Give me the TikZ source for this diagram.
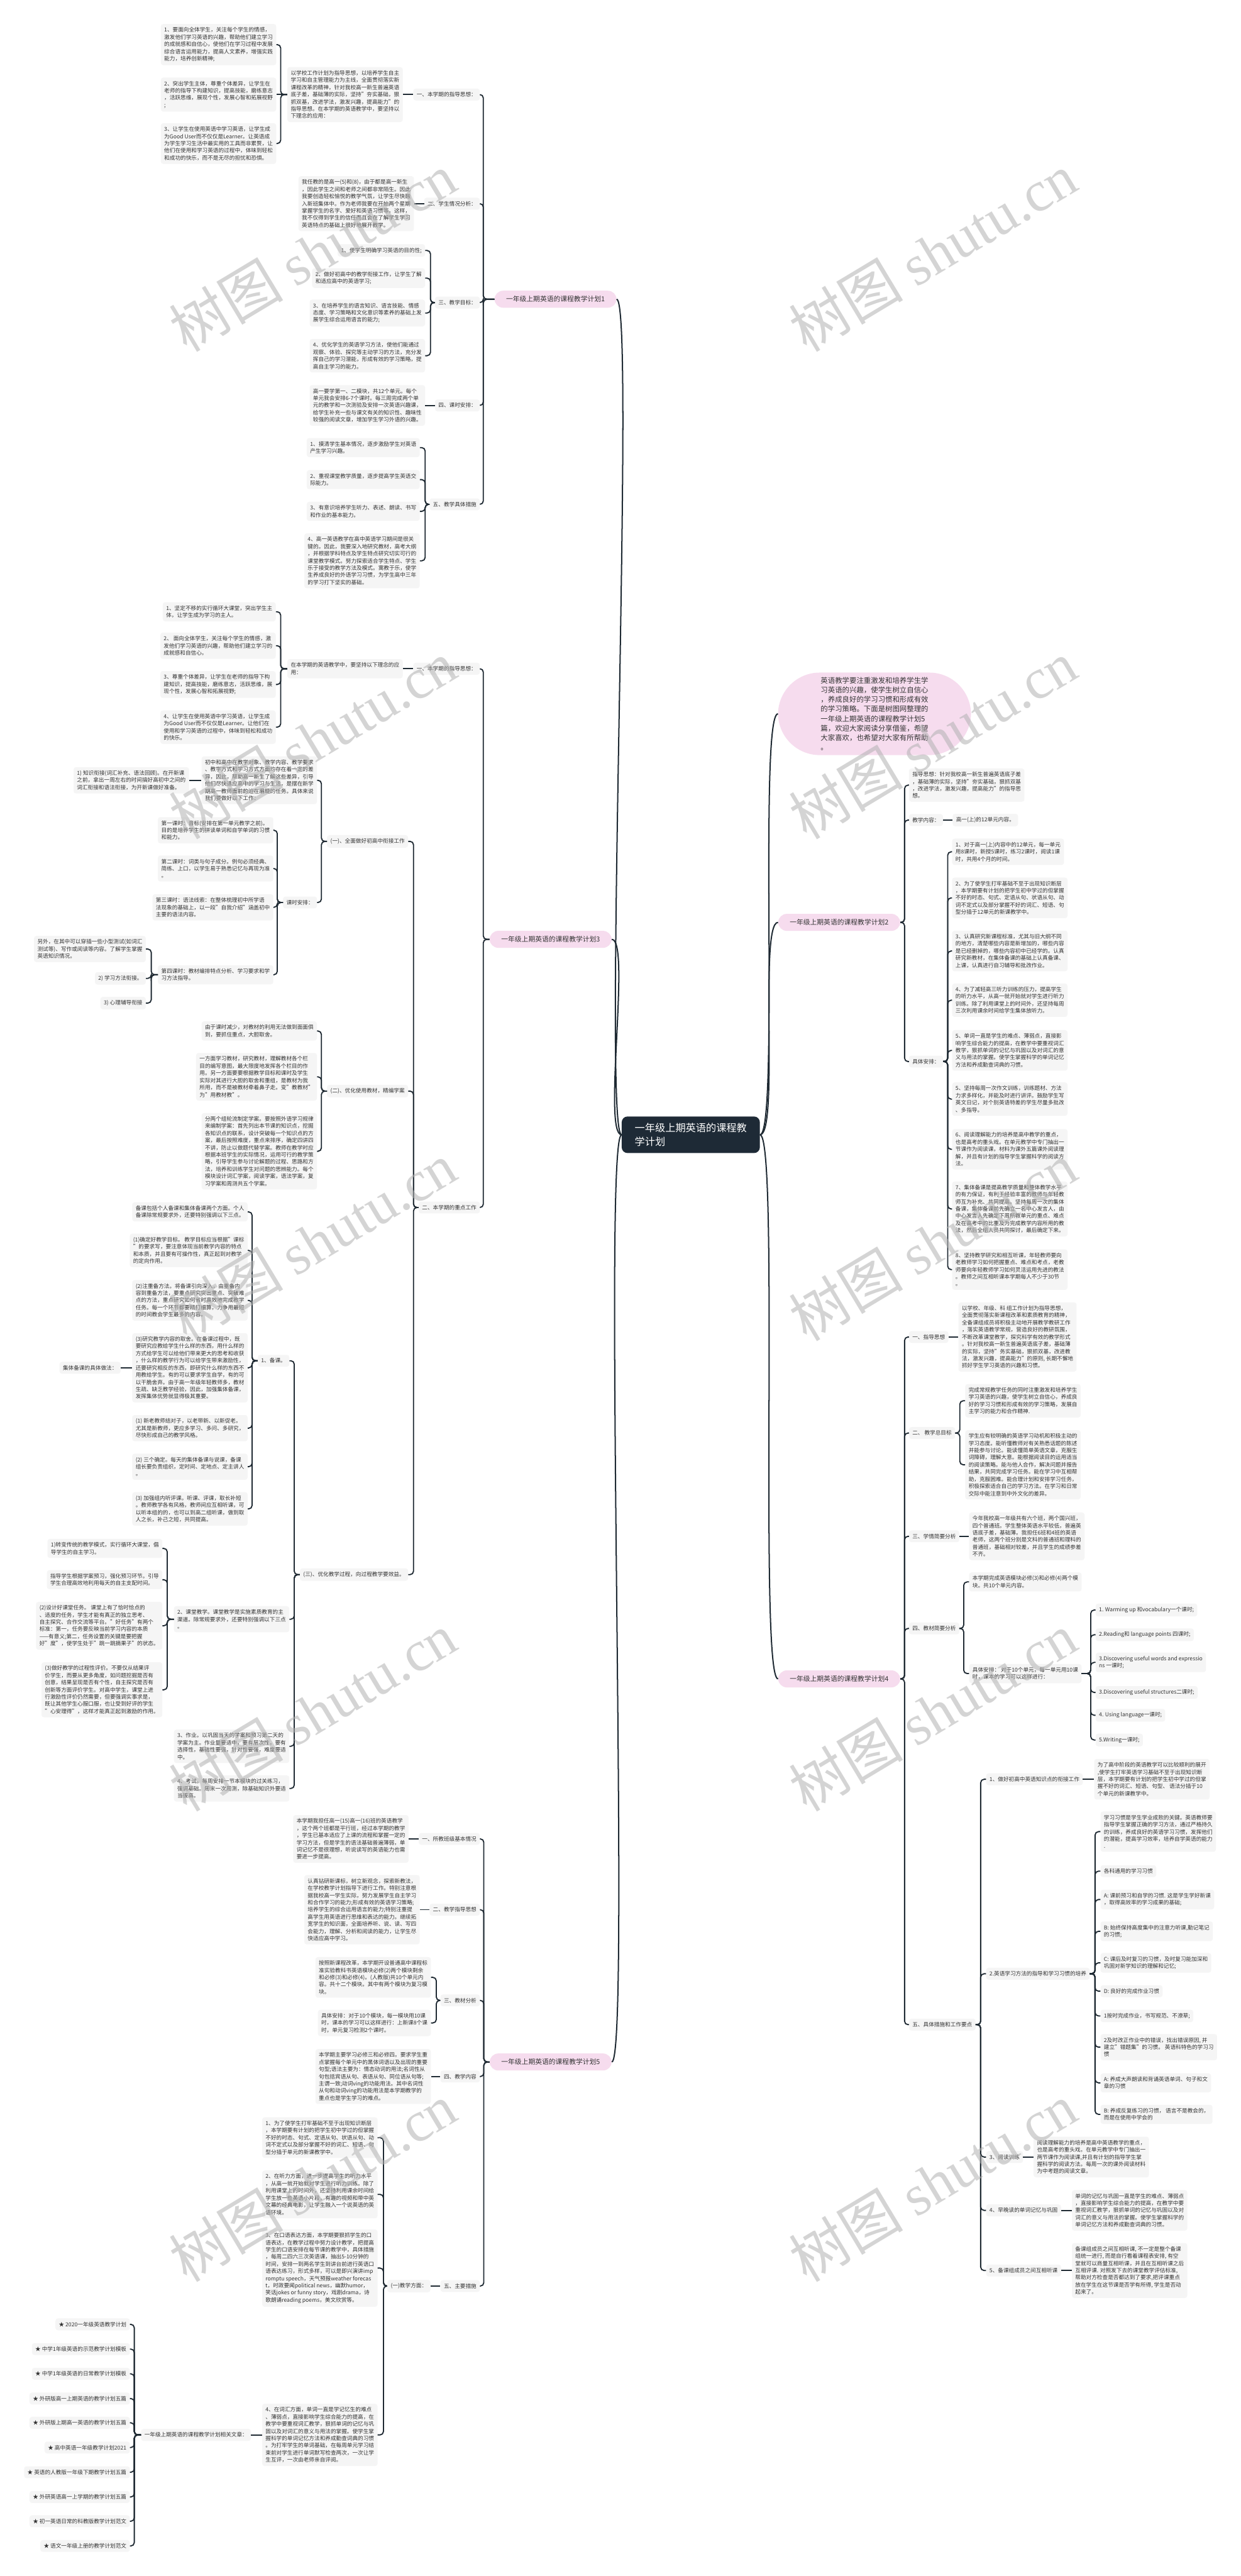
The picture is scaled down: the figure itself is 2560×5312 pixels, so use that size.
\documentclass[tikz,border=0pt]{standalone}
\usepackage{fontspec}
\setmainfont{Noto Sans CJK SC}
\newfontfamily\wmserif{Liberation Serif}
\definecolor{boxg}{HTML}{F5F5F5}
\definecolor{txtc}{HTML}{333333}
\definecolor{linec}{HTML}{1F2A33}
\definecolor{pinkc}{HTML}{F6DCEE}
\definecolor{rootc}{HTML}{1E2A36}
\newcommand\fmain{\fontsize{11.2pt}{14.8pt}\selectfont}
\newcommand\fbranch{\fontsize{14pt}{18pt}\selectfont}
\newcommand\fsumm{\fontsize{14.8pt}{19.8pt}\selectfont}
\newcommand\froot{\fontsize{21pt}{28pt}\selectfont}
\newcommand\fwm{\fontsize{118pt}{118pt}\selectfont}
\newcommand\cLB[3]{\draw[conn] (#1.east) -- ++(#3,0) |- (#2.west);}
\newcommand\cRB[3]{\draw[conn] (#1.west) -- ++(-#3,0) |- (#2.east);}
\newcommand\cLS[2]{\draw[conn] (#1.east) -- (#2.west);}
\newcommand\cRS[2]{\draw[conn] (#1.west) -- (#2.east);}
\tikzset{
 box/.style={fill=boxg, rounded corners=5pt, inner xsep=7pt, inner ysep=7pt, align=left, font=\fmain, text=txtc},
 pinkn/.style={fill=pinkc, rounded corners=18pt, inner xsep=24pt, inner ysep=11pt, font=\fbranch, text=txtc},
 summn/.style={fill=pinkc, rounded corners=86pt, inner xsep=88pt, inner ysep=9pt, align=left, font=\fsumm, text=txtc},
 rootn/.style={fill=rootc, rounded corners=12pt, inner xsep=27pt, inner ysep=14pt, align=left, font=\froot, text=white},
 conn/.style={draw=linec, line width=2.4pt, rounded corners=7pt},
 curv/.style={draw=linec, line width=2.6pt},
 wm/.style={text=black!30, text opacity=0.55, font=\fwm, inner sep=0pt},
 L/.style={box, anchor=east},
 R/.style={box, anchor=west},
}
\begin{document}
\begin{tikzpicture}[x=1pt,y=-1pt]
\fill[white] (0,0) rectangle (2560,5312);
\useasboundingbox (0,0) rectangle (2560,5312);

% ---------- root ----------
\node[rootn] (root) at (1425,2340) {一年级上期英语的课程教\\学计划};

% ---------- plan 1 ----------
\node[pinkn,anchor=east] (b1) at (1272,617) {一年级上期英语的课程教学计划1};
\node[L] (a1) at (990,195) {一、本学期的指导思想：};
\node[L] (a2) at (990,420) {二、学生情况分析：};
\node[L] (a3) at (990,624) {三、教学目标：};
\node[L] (a4) at (990,836) {四、课时安排：};
\node[L] (a5) at (990,1040) {五、教学具体措施};
\node[L] (t11) at (831,195) {以学校工作计划为指导思想，以培养学生自主\\学习和自主管理能力为主线，全面贯彻落实新\\课程改革的精神，针对我校高一新生普遍英语\\底子差，基础薄的实际，坚持"夯实基础，狠\\抓双基，改进学法，激发兴趣，提高能力"的\\指导思想。在本学期的英语教学中，要坚持以\\下理念的应用：};
\node[L] (t111) at (570,92) {1、要面向全体学生，关注每个学生的情感，\\激发他们学习英语的兴趣，帮助他们建立学习\\的成就感和自信心，使他们在学习过程中发展\\综合语言运用能力，提高人文素养，增强实践\\能力，培养创新精神;};
\node[L] (t112) at (570,195) {2、突出学生主体，尊重个体差异，让学生在\\老师的指导下构建知识，提高技能，磨练意志\\，活跃思维，展现个性，发展心智和拓展视野\\;};
\node[L] (t113) at (570,296) {3、让学生在使用英语中学习英语，让学生成\\为Good User而不仅仅是Learner。让英语成\\为学生学习生活中最实用的工具而非累赘，让\\他们在使用和学习英语的过程中，体味到轻松\\和成功的快乐，而不是无尽的担忧和恐惧。};
\node[L] (t12) at (854,420) {我任教的是高一(5)和(8)，由于都是高一新生\\，因此学生之间和老师之间都非常陌生。因此\\我要创造轻松愉悦的教学气氛，让学生尽快融\\入新班集体中。作为老师我要在开始两个星期\\掌握学生的名字、爱好和英语习惯等。这样，\\我不仅得到学生的信任而且会在了解学生学习\\英语特点的基础上很好地展开教学。};
\node[L] (t131) at (877,516.5) {1、使学生明确学习英语的目的性;};
\node[L] (t132) at (877,573.5) {2、做好初高中的教学衔接工作，让学生了解\\和适应高中的英语学习;};
\node[L] (t133) at (877,645.5) {3、在培养学生的语言知识、语言技能、情感\\态度、学习策略和文化意识等素养的基础上发\\展学生综合运用语言的能力;};
\node[L] (t134) at (877,733.5) {4、优化学生的英语学习方法，使他们能通过\\观察、体验、探究等主动学习的方法，充分发\\挥自己的学习潜能，形成有效的学习策略，提\\高自主学习的能力。};
\node[L] (t14) at (877,836) {高一要学第一、二模块，共12个单元。每个\\单元我会安排6-7个课时。每三周完成两个单\\元的教学和一次测验及安排一次英语兴趣课，\\给学生补充一些与课文有关的知识性、趣味性\\较强的阅读文章，增加学生学习外语的兴趣。};
\node[L] (t151) at (866,923) {1、摸清学生基本情况，逐步激励学生对英语\\产生学习兴趣。};
\node[L] (t152) at (866,989) {2、重视课堂教学质量，逐步提高学生英语交\\际能力。};
\node[L] (t153) at (866,1054.5) {3、有意识培养学生听力、表述、朗读、书写\\和作业的基本能力。};
\node[L] (t154) at (866,1156.5) {4、高一英语教学在高中英语学习期间是很关\\键的。因此，我要深入地研究教材，高考大纲\\，并根据学科特点及学生特点研究切实可行的\\课堂教学模式。努力探索适合学生特点、学生\\乐于接受的教学方法及模式。寓教于乐，使学\\生养成良好的外语学习习惯，为学生高中三年\\的学习打下坚实的基础。};
\foreach \c in {a1,a2,a3,a4,a5} {\cLB{\c}{b1}{7}}
\cLS{t11}{a1}
\cLB{t111}{t11}{9} \cLS{t112}{t11} \cLB{t113}{t11}{9}
\cLS{t12}{a2}
\foreach \c in {t131,t132,t133,t134} {\cLB{\c}{a3}{11}}
\cLS{t14}{a4}
\foreach \c in {t151,t152,t153,t154} {\cLB{\c}{a5}{11}}

% ---------- plan 3 ----------
\node[pinkn,anchor=east] (b3) at (1262,1937) {一年级上期英语的课程教学计划3};
\node[L] (c1) at (990,1379) {一、本学期的指导思想：};
\node[L] (c2) at (990,2490) {二、本学期的重点工作};
\node[L] (u1) at (831,1379) {在本学期的英语教学中，要坚持以下理念的应\\用：};
\node[L] (u11) at (569,1261.5) {1、坚定不移的实行循环大课堂，突出学生主\\体，让学生成为学习的主人。};
\node[L] (u12) at (569,1331.5) {2、 面向全体学生，关注每个学生的情感，激\\发他们学习英语的兴趣，帮助他们建立学习的\\成就感和自信心。};
\node[L] (u13) at (569,1411.5) {3、尊重个体差异，让学生在老师的指导下构\\建知识，提高技能，磨练意志，活跃思维，展\\现个性，发展心智和拓展视野;};
\node[L] (u14) at (569,1499.5) {4、让学生在使用英语中学习英语，让学生成\\为Good User而不仅仅是Learner。让他们在\\使用和学习英语的过程中，体味到轻松和成功\\的快乐。};
\node[L] (v1) at (842,1735) {(一)、全面做好初高中衔接工作};
\node[L] (v2) at (842,2250) {(二)、优化使用教材，精编学案};
\node[L] (v3) at (842,3247) {(三)、优化教学过程，向过程教学要效益。};
\node[L] (w1) at (654,1609) {初中和高中在教学对象、教学内容、教学要求\\、教学方式和学习方式方面均存在着一定的差\\异，因此，帮助高一新生了解这些差异，引导\\他们尽快适应高中的学习与生活，是摆在新学\\期高一教师面前的迫在眉睫的任务。具体来说\\我们要做好以下工作：};
\node[L] (w11) at (390,1609) {1) 知识衔接(词汇补充、语法回顾)。在开新课\\之前，拿出一周左右的时间搞好高初中之间的\\词汇衔接和语法衔接，为开新课做好准备。};
\node[L] (w2) at (654,1861) {课时安排：};
\node[L] (w21) at (564,1712) {第一课时：音标(安排在第一单元教学之前)。\\目的是培养学生的拼读单词和自学单词的习惯\\和能力。};
\node[L] (w22) at (564,1791) {第二课时：词类与句子成分。例句必须经典、\\简练、上口，以学生易于熟悉记忆与再现为准\\。};
\node[L] (w23) at (564,1871) {第三课时：语法线索：在整体梳理初中所学语\\法现象的基础上，以一段"自我介绍"涵盖初中\\主要的语法内容。};
\node[L] (w24) at (564,2010) {第四课时：教材编排特点分析、学习要求和学\\习方法指导。};
\node[L] (w241) at (301,1957) {另外，在其中可以穿插一些小型测试(如词汇\\测试等)、写作或阅读等内容。了解学生掌握\\英语知识情况。};
\node[L] (w242) at (301,2017.5) {2) 学习方法衔接。};
\node[L] (w243) at (301,2068.5) {3) 心理辅导衔接};
\node[L] (x1) at (654,2126) {由于课时减少，对教材的利用无法做到面面俱\\到，要抓住重点，大胆取舍。};
\node[L] (x2) at (654,2220.5) {一方面学习教材，研究教材，理解教材各个栏\\目的编写意图，最大限度地发挥各个栏目的作\\用。另一方面要要根据教学目标和课时及学生\\实际对其进行大胆的取舍和重组，是教材为我\\所用，而不是被教材牵着鼻子走。变"教教材"\\为"用教材教"。};
\node[L] (x3) at (654,2374) {分两个组轮流制定学案。要按照外语学习规律\\来编制学案：首先列出本节课的知识点，挖掘\\各知识点的联系，设计突破每一个知识点的方\\案，最后按照难度，重点来排序，确定四讲四\\不讲，防止以做题代替学案。教师在教学时应\\根据本班学生的实际情况，运用可行的教学策\\略，引导学生参与讨论解题的过程、思路和方\\法，培养和训练学生对问题的思辨能力。每个\\模块设计词汇学案，阅读学案，语法学案，复\\习学案和周测共五个学案。};
\node[L] (y1) at (597,2806) {1、备课。};
\node[L] (y2) at (597,3339) {2、课堂教学。课堂教学是实施素质教育的主\\渠道。除常规要求外，还要特别强调以下三点\\。};
\node[L] (y3) at (597,3601) {3、作业。以巩固当天的学案和预习第二天的\\学案为主。作业量要适中，要有层次性，要有\\选择性，基础性要强，针对性要强，难度要适\\中。};
\node[L] (y4) at (597,3688) {4、考试。每周安排一节本模块的过关练习，\\强调基础。周末一次周测，除基础知识外要适\\当拔高。};
\node[L] (z1) at (511,2499) {备课包括个人备课和集体备课两个方面。个人\\备课除常规要求外，还要特别强调以下三点。};
\node[L] (z2) at (511,2578.5) {(1)确定好教学目标。 教学目标应当根据"课标\\"的要求写，要注意体现当前教学内容的特点\\和本质，并且要有可操作性，真正起到对教学\\的定向作用。};
\node[L] (z3) at (511,2681.5) {(2)注重备方法。将备课引向深入，由重备内\\容到重备方法，要重点研究突出重点、突破难\\点的方法，重点研究如何省时高效地完成教学\\任务。每一个环节都要精打细算，力争用最短\\的时间教会学生最多的内容。};
\node[L] (z4) at (511,2820.5) {(3)研究教学内容的取舍。在备课过程中，既\\要研究应教给学生什么样的东西，用什么样的\\方式给学生可以给他们带来更大的思考和收获\\，什么样的教学行为可以给学生带来激励性，\\还要研究相反的东西，即研究什么样的东西不\\用教给学生。有的可以要求学生自学，有的可\\以干脆舍弃。由于高一年级年轻教师多，教材\\生疏、缺乏教学经验，因此，加强集体备课，\\发挥集体优势就显得极其重要。};
\node[L] (z41) at (249,2820.5) {集体备课的具体做法：};
\node[L] (z5) at (511,2945) {(1) 新老教师结对子，以老带新、以新促老。\\尤其是新教师，更应多学习、多问、多研究，\\尽快形成自己的教学风格。};
\node[L] (z6) at (511,3024.5) {(2) 三个确定。每天的集体备课与说课，备课\\组长要负责组织，定时间、定地点、定主讲人\\。};
\node[L] (z7) at (511,3111.5) {(3) 加强组内听评课。听课、评课，取长补短\\。教师教学各有风格，教师间应互相听课，可\\以听本组的的，也可以到高二组听课，做到取\\人之长，补己之短，共同提高。};
\node[L] (q1) at (335,3193) {1)转变传统的教学模式，实行循环大课堂，倡\\导学生的自主学习。};
\node[L] (q2) at (335,3257.5) {指导学生根据学案预习，强化预习环节。引导\\学生合理高效地利用每天的自主支配时间。};
\node[L] (q3) at (335,3352.5) {(2)设计好课堂任务。 课堂上有了恰时恰点的\\、适度的任务，学生才能有真正的独立思考、\\自主探究、合作交流等平台。"好任务"有两个\\标准：第一，任务要反映当前学习内容的本质\\——有意义;第二，任务设置的关键是要把握\\好"度"，使学生处于"跳一跳摘果子"的状态。};
\node[L] (q4) at (335,3484.5) {(3)做好教学的过程性评价。不要仅从结果评\\价学生，而要从更多角度，如问题挖掘是否有\\创意，结果呈现是否有个性，自主探究是否有\\创新等方面评价学生。对高中学生，课堂上进\\行激励性评价仍然需要，但要强调实事求是，\\既让其他学生心服口服，也让受到好评的学生\\"心安理得"，这样才能真正起到激励的作用。};
\cLB{c1}{b3}{7} \cLB{c2}{b3}{7}
\cLS{u1}{c1}
\foreach \c in {u11,u12,u13,u14} {\cLB{\c}{u1}{10}}
\foreach \c in {v1,v2,v3} {\cLB{\c}{c2}{11}}
\cLB{w1}{v1}{9} \cLB{w2}{v1}{9}
\cLS{w11}{w1}
\foreach \c in {w21,w22,w23,w24} {\cLB{\c}{w2}{8}}
\foreach \c in {w241,w242,w243} {\cLB{\c}{w24}{11}}
\foreach \c in {x1,x2,x3} {\cLB{\c}{v2}{9}}
\foreach \c in {y1,y2,y3,y4} {\cLB{\c}{v3}{10}}
\foreach \c in {z1,z2,z3,z4,z5,z6,z7} {\cLB{\c}{y1}{9}}
\cLS{z41}{z4}
\foreach \c in {q1,q2,q3,q4} {\cLB{\c}{y2}{10}}

% ---------- plan 5 ----------
\node[pinkn,anchor=east] (b5) at (1262,4252) {一年级上期英语的课程教学计划5};
\node[L] (d1) at (990,3792) {一、所教班级基本情况};
\node[L] (d2) at (990,3938) {二、教学指导思想};
\node[L] (d3) at (990,4125) {三、教材分析};
\node[L] (d4) at (990,4282) {四、教学内容};
\node[L] (d5) at (990,4714) {五、主要措施};
\node[L] (e1) at (843,3792) {本学期我担任高一(15)高一(16)班的英语教学\\，这个两个班都是平行班，经过本学期的教学\\，学生已基本适应了上课的流程和掌握一定的\\学习方法，但是学生的语法基础普遍薄弱，单\\词记忆不是很理想，听说读写的英语能力也需\\要进一步提高。};
\node[L] (e2) at (866,3938) {认真钻研新课标，树立新观念，探索新教法，\\在学校教学计划指导下进行工作。特别注意根\\据我校高一学生实际，努力发展学生自主学习\\和合作学习的能力;形成有效的英语学习策略;\\培养学生的综合运用语言的能力;特别注重提\\高学生用英语进行思维和表达的能力。继续拓\\宽学生的知识面，全面培养听、说、读、写四\\会能力，理解、分析和阅读的能力，让学生尽\\快适应高中学习。};
\node[L] (e31) at (889,4077.5) {按照新课程改革，本学期开设普通高中课程标\\准实验教科书英语模块必修(2)两个模块剩余\\和必修(3)和必修(4)。(人教版)共10个单元内\\容。共十二个模块。其中有两个模块为复习模\\块。};
\node[L] (e32) at (889,4171.5) {具体安排：对于10个模块，每一模块用10课\\时，课本的学习可以这样进行：上新课8个课\\时，单元复习检测2个课时。};
\node[L] (e4) at (889,4282) {本学期主要学习必修三和必修四。要求学生重\\点掌握每个单元中的黑体词语以及出现的重要\\句型;语法主要为：情态动词的用法;名词性从\\句包括宾语从句、表语从句、同位语从句等;\\主谓一致;动词ving的功能用法。其中名词性\\从句和动词ving的功能用法是本学期教学的\\重点也是学生学习的难点。};
\node[L] (e5) at (888,4714) {(一)教学方面：};
\node[L] (f1) at (779,4408) {1、为了使学生打牢基础不至于出现知识断层\\，本学期要有计划的把学生初中学过的但掌握\\不好的时态、句式、定语从句、状语从句、动\\词不定式以及部分掌握不好的词汇、短语、句\\型分插于单元的新课教学中。};
\node[L] (f2) at (779,4525) {2、在听力方面，进一步提高学生的听力水平\\，从高一就开始就对学生进行听力训练。除了\\利用课堂上的时间外，还坚持利用课余时间给\\学生放一些英语小片段，有趣的视频和带中英\\文幕的经典电影，让学生融入一个说英语的英\\语环境。};
\node[L] (f3) at (779,4677) {3、在口语表达方面，本学期要狠抓学生的口\\语表达，在教学过程中努力设计教学，把提高\\学生的口语安排在每节课的教学中，具体措施\\，每周二四六三次英语课，抽出5-10分钟的\\时间，安排一到两名学生到讲台前进行英语口\\语表达练习，形式多样，可以是即兴演讲imp\\romptu speech，天气预报weather forecas\\t，时政要闻political news，幽默humor，\\笑话jokes or funny story，戏剧drama，诗\\歌朗诵reading poems，美文欣赏等。};
\node[L] (f4) at (779,5021) {4、在词汇方面，单词一直是学记忆生的难点\\、薄弱点，直接影响学生综合能力的提高，在\\教学中要重视词汇教学，狠抓单词的记忆与巩\\固以及对词汇的意义与用法的掌握。使学生掌\\握科学的单词记忆方法和养成勤查词典的习惯\\。为打牢学生的单词基础，在每周单元学习结\\束前对学生进行单词默写检查两次，一次让学\\生互评，一次由老师亲自评阅。};
\node[L] (g) at (518,5021) {一年级上期英语的课程教学计划相关文章：};
\node[L] (h1) at (268,4793) {★ 2020一年级英语教学计划};
\node[L] (h2) at (268,4844) {★ 中学1年级英语的示范教学计划模板};
\node[L] (h3) at (268,4895) {★ 中学1年级英语的日常教学计划模板};
\node[L] (h4) at (268,4946) {★ 外研版高一上期英语的教学计划五篇};
\node[L] (h5) at (268,4996) {★ 外研版上期高一英语的教学计划五篇};
\node[L] (h6) at (268,5047) {★ 高中英语一年级教学计划2021};
\node[L] (h7) at (268,5098) {★ 英语的人教版一年级下期教学计划五篇};
\node[L] (h8) at (268,5149) {★ 外研英语高一上学期的教学计划五篇};
\node[L] (h9) at (268,5199) {★ 初一英语日常的科教版教学计划范文};
\node[L] (h10) at (268,5250) {★ 语文一年级上册的教学计划范文};
\foreach \c in {d1,d2,d3,d4,d5} {\cLB{\c}{b5}{8}}
\cLS{e1}{d1} \cLS{e2}{d2} \cLS{e4}{d4} \cLS{e5}{d5}
\cLB{e31}{d3}{11} \cLB{e32}{d3}{11}
\foreach \c in {f1,f2,f3,f4} {\cLB{\c}{e5}{12}}
\cLS{g}{f4}
\foreach \c in {h1,h2,h3,h4,h5,h6,h7,h8,h9,h10} {\cLB{\c}{g}{9}}

% ---------- right: summary ----------
\node[summn] (summ) at (1804,1472) {英语教学要注重激发和培养学生学\\习英语的兴趣，使学生树立自信心\\，养成良好的学习习惯和形成有效\\的学习策略。下面是树图网整理的\\一年级上期英语的课程教学计划5\\篇，欢迎大家阅读分享借鉴，希望\\大家喜欢，也希望对大家有所帮助\\。};

% ---------- plan 2 ----------
\node[pinkn,anchor=west] (b2) at (1605,1902) {一年级上期英语的课程教学计划2};
\node[R] (r1) at (1875,1619) {指导思想：针对我校高一新生普遍英语底子差\\，基础薄的实际，坚持"夯实基础，狠抓双基\\，改进学法，激发兴趣，提高能力"的指导思\\想。};
\node[R] (r2) at (1875,1691) {教学内容：};
\node[R] (r21) at (1965,1691) {高一(上)的12单元内容。};
\node[R] (r3) at (1875,2189) {具体安排：};
\node[R] (r31) at (1964,1756.5) {1、对于高一(上)内容中的12单元，每一单元\\用8课时，新授5课时，练习2课时，阅读1课\\时，共用4个月的时间。};
\node[R] (r32) at (1964,1851.5) {2、为了使学生打牢基础不至于出现知识断层\\，本学期要有计划的把学生初中学过的但掌握\\不好的时态、句式、定语从句、状语从句、动\\词不定式以及部分掌握不好的词汇、短语、句\\型分插于12单元的新课教学中。};
\node[R] (r33) at (1964,1961) {3、认真研究新课程标准，尤其与旧大纲不同\\的地方，清楚哪些内容是新增加的，哪些内容\\是已经删掉的，哪些内容初中已经学的。认真\\研究新教材，在集体备课的基础上认真备课、\\上课，认真进行自习辅导和批改作业。};
\node[R] (r34) at (1964,2062.5) {4、为了减轻高三听力训练的压力，提高学生\\的听力水平，从高一就开始就对学生进行听力\\训练。除了利用课堂上的时间外，还坚持每周\\三次利用课余时间给学生集体放听力。};
\node[R] (r35) at (1964,2166) {5、单词一直是学生的难点、薄弱点，直接影\\响学生综合能力的提高，在教学中要重视词汇\\教学，狠抓单词的记忆与巩固以及对词汇的意\\义与用法的掌握。使学生掌握科学的单词记忆\\方法和养成勤查词典的习惯。};
\node[R] (r36) at (1964,2266.5) {5、坚持每周一次作文训练，训练题材、方法\\力求多样化，并能及时进行讲评。鼓励学生写\\英文日记，对个别英语特差的学生尽量多批改\\、多指导。};
\node[R] (r37) at (1964,2370) {6、阅读理解能力的培养是高中教学的重点，\\也是高考的重头戏。在单元教学中专门抽出一\\节课作为阅读课，材料为课外五篇课外阅读理\\解，并且有计划的指导学生掌握科学的阅读方\\法。};
\node[R] (r38) at (1964,2493) {7、集体备课是提高教学质量和整体教学水平\\的有力保证，有利于经验丰富的教师与年轻教\\师互为补充、共同提高。坚持每周一次的集体\\备课，集体备课前先确立一名中心发言人，由\\中心发言人先确定下周所教单元的重点、难点\\及在高考中的比重及为完成教学内容所用的教\\法，然后全组人员共同探讨，最后确定下来。};
\node[R] (r39) at (1964,2618) {8、坚持教学研究和相互听课，年轻教师要向\\老教师学习如何把握重点、难点和考点，老教\\师要向年轻教师学习如何灵活运用先进的教法\\。教师之间互相听课本学期每人不少于30节\\。};
\foreach \c in {r1,r2,r3} {\cRB{\c}{b2}{9}}
\cRS{r21}{r2}
\foreach \c in {r31,r32,r33,r34,r35,r36,r37,r38,r39} {\cRB{\c}{r3}{9}}

% ---------- plan 4 ----------
\node[pinkn,anchor=west] (b4) at (1605,3462) {一年级上期英语的课程教学计划4};
\node[R] (k1) at (1875,2757) {一、指导思想};
\node[R] (k2) at (1875,2955) {二、 教学总目标};
\node[R] (k3) at (1875,3168) {三、学情简要分析};
\node[R] (k4) at (1875,3358) {四、教材简要分析};
\node[R] (k5) at (1875,4175) {五、具体措施和工作要点};
\node[R] (k1t) at (1977,2757) {以学校、年级、科 组工作计划为指导思想，\\全面贯彻落实新课程改革和素质教育的精神，\\全备课组成员将积极主动地开展教学教研工作\\，落实英语教学常规，营造良好的教研氛围，\\不断改革课堂教学，探究科学有效的教学形式\\。针对我校高一新生普遍英语底子差，基础薄\\的实际，坚持"务实基础，狠抓双基，改进教\\法，激发兴趣，提高能力"的原则, 长期不懈地\\抓好学生学习英语的兴趣和习惯。};
\node[R] (k21) at (1991,2888.5) {完成常规教学任务的同时注重激发和培养学生\\学习英语的兴趣，使学生树立自信心，养成良\\好的学习习惯和形成有效的学习策略，发展自\\主学习的能力和合作精神.};
\node[R] (k22) at (1991,3020.5) {学生应有较明确的英语学习动机和积极主动的\\学习态度。能听懂教师对有关熟悉话题的陈述\\并能参与讨论。能读懂简单英语文章，克服生\\词障碍，理解大意。能根据阅读目的运用适当\\的阅读策略。能与他人合作，解决问题并报告\\结果，共同完成学习任务。能在学习中互相帮\\助，克服困难。能合理计划和安排学习任务，\\积极探索适合自己的学习方法。在学习和日常\\交际中能注意到中外文化的差异。};
\node[R] (k3t) at (1999,3168) {今年我校高一年级共有六个班，两个国兴班，\\四个普通班。学生整体英语水平较低，普遍英\\语底子差，基础薄。我担任6班和4班的英语\\老师，这两个班分别是文科的普通班和理科的\\普通班，基础相对较差，并且学生的成绩参差\\不齐。};
\node[R] (k41) at (1999,3262) {本学期完成英语模块必修(3)和必修(4)两个模\\块。共10个单元内容。};
\node[R] (k42) at (1999,3451) {具体安排： 对于10个单元，每一单元用10课\\时，课本的学习可以这样进行：};
\node[R] (m1) at (2260,3320) {1. Warming up 和vocabulary一个课时;};
\node[R] (m2) at (2260,3371) {2.Reading和 language points 四课时;};
\node[R] (m3) at (2260,3428) {3.Discovering useful words and expressio\\ns 一课时;};
\node[R] (m4) at (2260,3490) {3.Discovering useful structures二课时;};
\node[R] (m5) at (2260,3537) {4. Using language一课时;};
\node[R] (m6) at (2260,3588) {5.Writing一课时;};
\node[R] (p1) at (2034,3669) {1、做好初高中英语知识点的衔接工作};
\node[R] (p1t) at (2257,3669) {为了高中阶段的英语教学可以比较顺利的展开\\,使学生打牢英语学习基础不至于出现知识断\\层，本学期要有计划的把学生初中学过的但掌\\握不好的词汇、短语、句型、 语法分插于10\\个单元的新课教学中。};
\node[R] (p2) at (2034,4070) {2.英语学习方法的指导和学习习惯的培养};
\node[R] (p21) at (2270,3777) {学习习惯是学生学业成败的关键。英语教师要\\指导学生掌握正确的学习方法，通过严格持久\\的训练，养成良好的英语学习习惯，发挥他们\\的潜能，提高学习效率，培养自学英语的能力\\.};
\node[R] (p22) at (2270,3858.5) {各科通用的学习习惯};
\node[R] (p23) at (2270,3917) {A: 课前预习和自学的习惯. 这是学生学好新课\\，取得高效率的学习成果的基础;};
\node[R] (p24) at (2270,3982.5) {B: 始终保持高度集中的注意力听课,勤记笔记\\的习惯;};
\node[R] (p25) at (2270,4047.5) {C: 课后及时复习的习惯，及时复习能加深和\\巩固对新学知识的理解和记忆;};
\node[R] (p26) at (2270,4106) {D: 良好的完成作业习惯};
\node[R] (p27) at (2270,4157) {1按时完成作业，书写规范、不潦草;};
\node[R] (p28) at (2270,4221.5) {2及时改正作业中的错误，找出错误原因, 并\\建立"错题集"的习惯。 英语科特色的学习习\\惯};
\node[R] (p29) at (2270,4295) {A: 养成大声朗读和背诵英语单词、句子和文\\章的习惯};
\node[R] (p2a) at (2270,4360) {B: 养成反复练习的习惯， 语言不是教会的，\\而是在使用中学会的};
\node[R] (p3) at (2034,4448) {3、阅读训练};
\node[R] (p3t) at (2132,4448) {阅读理解能力的培养是高中英语教学的重点，\\也是高考的重头戏。在单元教学中专门抽出一\\两节课作为阅读课,并且有计划的指导学生掌\\握科学的阅读方法。每周一次的课外阅读材料\\为中考题的阅读文章。};
\node[R] (p4) at (2034,4558) {4、早晚读的单词记忆与巩固};
\node[R] (p4t) at (2211,4558) {单词的记忆与巩固一直是学生的难点、薄弱点\\，直接影响学生综合能力的提高，在教学中要\\重视词汇教学，狠抓单词的记忆与巩固以及对\\词汇的意义与用法的掌握。使学生掌握科学的\\单词记忆方法和养成勤查词典的习惯。};
\node[R] (p5) at (2034,4682) {5、备课组成员之间互相听课};
\node[R] (p5t) at (2211,4682) {备课组成员之间互相听课, 不一定是整个备课\\组统一进行, 而是自行看着课程表安排, 有空\\堂就可以商量互相听课，并且在互相听课之后\\互相评课. 对照发下去的课堂教学评估标准,\\帮助对方检查是否都达到了要求,把评课重点\\放在学生在这节课是否学有所得, 学生是否动\\起来了。};
\foreach \c in {k1,k2,k3,k4,k5} {\cRB{\c}{b4}{9}}
\cRS{k1t}{k1} \cRS{k3t}{k3}
\cRB{k21}{k2}{11} \cRB{k22}{k2}{11}
\cRB{k41}{k4}{11} \cRB{k42}{k4}{11}
\foreach \c in {m1,m2,m3,m4,m5,m6} {\cRB{\c}{k42}{10}}
\foreach \c in {p1,p2,p3,p4,p5} {\cRB{\c}{k5}{11}}
\cRS{p1t}{p1} \cRS{p3t}{p3} \cRS{p4t}{p4} \cRS{p5t}{p5}
\foreach \c in {p21,p22,p23,p24,p25,p26,p27,p28,p29,p2a} {\cRB{\c}{p2}{11}}

% ---------- root connectors ----------
\foreach \b in {b1,b3,b5} {\draw[curv] (root.west) .. controls +(-40,0) and +(40,0) .. (\b.east);}
\foreach \b in {summ,b2,b4} {\draw[curv] (root.east) .. controls +(40,0) and +(-40,0) .. (\b.west);}

% ---------- watermarks ----------
\foreach \wx in {645,1924} {
 \foreach \wy in {520,1525,2560,3530,4500} {
  \node[wm,rotate=31] at (\wx,\wy) {树图 {\wmserif shutu.cn}};
 }
}
\end{tikzpicture}
\end{document}
